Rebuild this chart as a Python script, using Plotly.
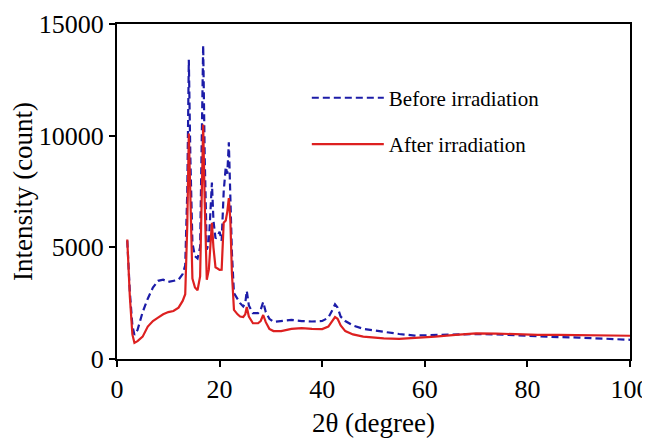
import plotly.graph_objects as go

two_theta = [2.0, 2.5, 3.0, 3.4, 4.0, 5.0, 6.0, 7.0, 8.0, 9.0, 10.0, 11.0, 12.0, 12.8, 13.3,
             13.7, 14.0, 14.3, 14.7, 15.2, 15.7, 16.2, 16.5, 16.8, 17.1, 17.5, 17.9, 18.2,
             18.5, 18.8, 19.2, 19.6, 20.0, 20.4, 20.8, 21.2, 21.5, 21.8, 22.1, 22.4, 22.8,
             23.5, 24.0, 24.6, 25.0, 25.3, 25.7, 26.5, 27.5, 28.0, 28.5, 29.0, 29.7, 30.5,
             32, 34, 36, 38, 40, 41.2, 42.0, 42.5, 43.0, 43.6, 44.5, 46, 48, 50, 52, 55,
             58, 62, 66, 70, 74, 78, 82, 86, 90, 94, 97, 100]

before_irradiation = [5300, 3000, 1500, 1080, 1300, 2100, 2700, 3200, 3500, 3550, 3450, 3500,
                      3550, 3800, 4200, 7500, 13400, 9000, 5200, 4600, 4500, 5000, 9000, 14050,
                      9000, 4900, 5200, 6500, 7900, 6200, 5400, 5500, 5700, 5300, 7500, 8600,
                      8300, 9700, 7500, 4750, 2950, 2650, 2500, 2350, 2500, 3050, 2400, 2050,
                      2050, 2200, 2550, 2100, 1800, 1660, 1700, 1750, 1700, 1680, 1700, 1850,
                      2200, 2450, 2300, 1900, 1700, 1500, 1350, 1280, 1200, 1120, 1050, 1080,
                      1100, 1120, 1100, 1050, 1010, 980, 960, 930, 900, 860]

after_irradiation = [5350, 2800, 1100, 720, 800, 1000, 1450, 1700, 1850, 2000, 2100, 2150,
                     2300, 2600, 2900, 6000, 10100, 7000, 3600, 3200, 3080, 3700, 7000, 10500,
                     7000, 3550, 4000, 5000, 6100, 5000, 4100, 4050, 3990, 4000, 6100, 6200,
                     6600, 7200, 6200, 3850, 2200, 2000, 1900, 1880, 2000, 2330, 1900, 1600,
                     1600, 1700, 1970, 1650, 1350, 1250, 1250, 1350, 1380, 1350, 1340, 1450,
                     1700, 1880, 1800, 1500, 1250, 1100, 1000, 950, 920, 900, 930, 1000,
                     1080, 1150, 1140, 1100, 1080, 1080, 1070, 1060, 1060, 1040]

x_ticks = [0, 20, 40, 60, 80, 100]
y_ticks = [0, 5000, 10000, 15000]
y_tick_labels = ["0", "5000", "10000", "15000"]

FONT = "Liberation Serif"

fig = go.Figure()
fig.add_trace(go.Scatter(x=two_theta, y=before_irradiation, mode="lines",
                         name="Before irradiation", legendgroup="b",
                         line=dict(color="#1c1ca8", width=2.2, dash="7px,4px")))
fig.add_trace(go.Scatter(x=two_theta, y=after_irradiation, mode="lines",
                         name="After irradiation", legendgroup="a",
                         line=dict(color="#dd2020", width=2.2)))

axis_common = dict(showline=True, linecolor="black", linewidth=2, mirror=True,
                   ticks="outside", ticklen=6, tickwidth=2, tickcolor="black",
                   showgrid=False, zeroline=False, automargin=False,
                   ticklabeloverflow="allow",
                   tickfont=dict(family=FONT, size=26, color="black"))

fig.update_xaxes(range=[0, 100], tickvals=x_ticks,
                 title=dict(text="2θ (degree)", font=dict(family=FONT, size=27, color="black"),
                            standoff=20),
                 **axis_common)
fig.update_yaxes(range=[0, 15000], tickvals=y_ticks, ticktext=y_tick_labels,
                 title=dict(text="Intensity (count)", font=dict(family=FONT, size=27, color="black"),
                            standoff=2),
                 **axis_common)

fig.update_layout(
    width=642, height=430,
    margin=dict(l=109, r=20, t=16, b=79),
    plot_bgcolor="white", paper_bgcolor="white",
    font=dict(family=FONT, color="black"),
    legend=dict(x=0.37, y=0.84, xanchor="left", yanchor="top", itemwidth=72,
                bgcolor="rgba(0,0,0,0)", tracegroupgap=16,
                font=dict(family=FONT, size=21, color="black")),
)

fig.write_html("out.html")
